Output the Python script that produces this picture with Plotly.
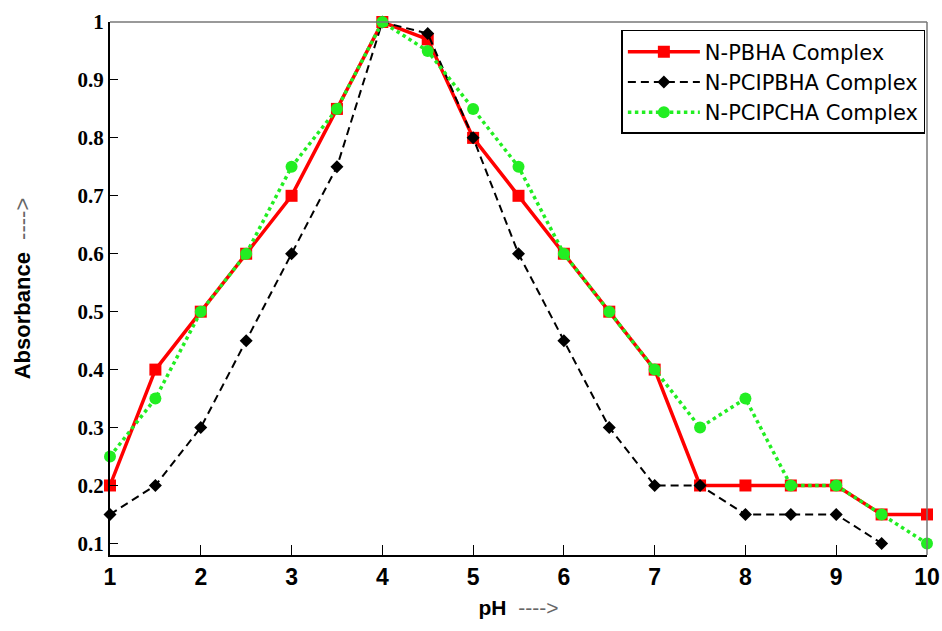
import plotly.graph_objects as go

ph = [1, 1.5, 2, 2.5, 3, 3.5, 4, 4.5, 5, 5.5, 6, 6.5, 7, 7.5, 8, 8.5, 9, 9.5, 10]
n_pbha = [0.2, 0.4, 0.5, 0.6, 0.7, 0.85, 1.0, 0.97, 0.8, 0.7, 0.6, 0.5, 0.4, 0.2, 0.2, 0.2, 0.2, 0.15, 0.15]
n_pcipbha = [0.15, 0.2, 0.3, 0.45, 0.6, 0.75, 1.0, 0.98, 0.8, 0.6, 0.45, 0.3, 0.2, 0.2, 0.15, 0.15, 0.15, 0.1, None]
n_pcipcha = [0.25, 0.35, 0.5, 0.6, 0.75, 0.85, 1.0, 0.95, 0.85, 0.75, 0.6, 0.5, 0.4, 0.3, 0.35, 0.2, 0.2, 0.15, 0.1]

x_ticks = [1, 2, 3, 4, 5, 6, 7, 8, 9, 10]
y_ticks = [0.1, 0.2, 0.3, 0.4, 0.5, 0.6, 0.7, 0.8, 0.9, 1.0]
y_labels = ["0.1", "0.2", "0.3", "0.4", "0.5", "0.6", "0.7", "0.8", "0.9", "1"]

fig = go.Figure()
fig.add_trace(go.Scatter(
    x=ph, y=n_pbha, name="N-PBHA Complex", mode="lines+markers",
    line=dict(color="#ff0000", width=3.5),
    marker=dict(symbol="square", size=12, color="#ff0000"),
    cliponaxis=False,
))
fig.add_trace(go.Scatter(
    x=ph, y=n_pcipbha, name="N-PCIPBHA Complex", mode="lines+markers",
    line=dict(color="#000000", width=2, dash="8px,5px"),
    marker=dict(symbol="diamond", size=10, color="#000000"),
    cliponaxis=False, connectgaps=False,
))
fig.add_trace(go.Scatter(
    x=ph, y=n_pcipcha, name="N-PCIPCHA Complex", mode="lines+markers",
    line=dict(color="#22ee22", width=3.5, dash="dot"),
    marker=dict(symbol="circle", size=12, color="#22ee22"),
    cliponaxis=False,
))

fig.update_layout(
    width=942, height=631,
    paper_bgcolor="white", plot_bgcolor="white",
    margin=dict(l=110, r=15, t=22, b=76),
    showlegend=True,
    legend=dict(
        x=0.998, y=0.985, xanchor="right", yanchor="top",
        bordercolor="#000000", borderwidth=1.5, bgcolor="white",
        font=dict(family="DejaVu Sans", size=21, color="#000"),
        tracegroupgap=0, itemwidth=72,
    ),
    xaxis=dict(
        range=[1, 10], tickvals=x_ticks, ticktext=["<b>%d</b>" % v for v in x_ticks],
        showgrid=False, zeroline=False, automargin=False, ticklabeloverflow="allow",
        ticks="inside", ticklen=10, tickcolor="#000",
        showline=True, linecolor="#000", linewidth=2, mirror=False,
        tickfont=dict(family="Liberation Sans Narrow, Liberation Sans, Arial", size=23, color="#000"),
        title=dict(text="<b>pH</b>  <span style='color:#666'>----&gt;</span>",
                   font=dict(family="Liberation Sans, Arial", size=21, color="#000"), standoff=12),
    ),
    yaxis=dict(
        range=[0.08, 1.0], tickvals=y_ticks, ticktext=["<b>%s</b>" % t for t in y_labels],
        showgrid=False, zeroline=False, automargin=False,
        ticks="inside", ticklen=8, tickcolor="#000",
        showline=True, linecolor="#000", linewidth=2, mirror=False,
        tickfont=dict(family="Liberation Serif, Times New Roman", size=21, color="#000"),
        title=dict(text="<b>Absorbance</b>  <span style='color:#666'>----&gt;</span>",
                   font=dict(family="Liberation Sans, Arial", size=22, color="#000"), standoff=41),
    ),
)
# gray top/right frame
fig.add_shape(type="line", xref="paper", yref="paper", x0=0, x1=1, y0=1, y1=1,
              line=dict(color="#777", width=1.5))
fig.add_shape(type="line", xref="paper", yref="paper", x0=1, x1=1, y0=0, y1=1,
              line=dict(color="#777", width=1.5))

fig.write_html(
    "out.html",
    config={"displayModeBar": False},
    post_script="document.body.style.margin='0';document.body.style.overflow='hidden';",
)
